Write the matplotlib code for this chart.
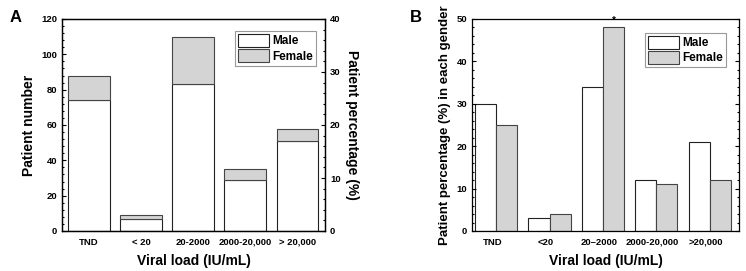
import numpy as np
import matplotlib.pyplot as plt
from matplotlib.ticker import MultipleLocator

plt.rcParams['font.family'] = ['Liberation Sans', 'DejaVu Sans']
plt.rcParams['font.weight'] = 'bold'

# data
cats_a = ["TND", "< 20", "20-2000", "2000-20,000", "> 20,000"]
male_a = [74, 7, 83, 29, 51]
female_a = [14, 2, 27, 6, 7]

cats_b = ["TND", "<20", "20\u20132000", "2000-20,000", ">20,000"]
male_b = [30, 3, 34, 12, 21]
female_b = [25, 4, 48, 11, 12]

GRAY = "#d4d4d4"


def style_axis(ax):
    ax.tick_params(direction='in', which='both', labelsize=6.8, width=0.8)
    ax.tick_params(which='major', length=3)
    ax.tick_params(which='minor', length=1.5)
    for s in ax.spines.values():
        s.set_linewidth(0.9)


fig = plt.figure(figsize=(7.46, 2.71), dpi=100)

##############################################################
# Panel A
##############################################################
ax1 = fig.add_axes([62 / 746, 1 - 231 / 271, 263 / 746, 212 / 271])
x = np.arange(len(cats_a))
ax1.bar(x, male_a, width=0.8, color="white", edgecolor="#222222", linewidth=0.8, label="Male")
ax1.bar(x, female_a, width=0.8, bottom=male_a, color=GRAY, edgecolor="#444444", linewidth=0.8, label="Female")
ax1.set_xlim(-0.52, 4.53)
ax1.set_ylim(0, 120)
ax1.yaxis.set_major_locator(MultipleLocator(20))
ax1.yaxis.set_minor_locator(MultipleLocator(4))
ax1.set_xticks(x)
ax1.set_xticklabels(cats_a)
ax1.set_ylabel("Patient number", fontsize=10, fontweight='bold', labelpad=4)
ax1.set_xlabel("Viral load (IU/mL)", fontsize=10, fontweight='bold', labelpad=5)
style_axis(ax1)
ax1.tick_params(axis='x', which='both', length=0, pad=5)

ax1r = ax1.twinx()
ax1r.set_ylim(0, 40)
ax1r.yaxis.set_major_locator(MultipleLocator(10))
ax1r.yaxis.set_minor_locator(MultipleLocator(2))
ax1r.set_ylabel("Patient percentage (%)", fontsize=10, fontweight='bold', rotation=270, labelpad=13)
style_axis(ax1r)

leg = ax1.legend(loc='upper right', bbox_to_anchor=(0.966, 0.943), fontsize=8.5, handlelength=2.6,
                 handleheight=1.3, fancybox=False, framealpha=1, edgecolor="#999999",
                 borderpad=0.25, labelspacing=0.15, handletextpad=0.3, borderaxespad=0)
leg.get_frame().set_linewidth(0.8)

##############################################################
# Panel B
##############################################################
ax2 = fig.add_axes([472 / 746, 1 - 231 / 271, 267 / 746, 212 / 271])
x = np.arange(len(cats_b))
bw = 0.395
ax2.bar(x - 0.245, male_b, width=bw, color="white", edgecolor="#222222", linewidth=0.8, label="Male")
ax2.bar(x + 0.15, female_b, width=bw, color=GRAY, edgecolor="#444444", linewidth=0.8, label="Female")
ax2.text(2 + 0.15, female_b[2] + 0.3, "*", ha='center', va='bottom', fontsize=7, fontweight='bold')
ax2.set_xlim(-0.5, 4.5)
ax2.set_ylim(0, 50)
ax2.yaxis.set_major_locator(MultipleLocator(10))
ax2.yaxis.set_minor_locator(MultipleLocator(2))
ax2.set_xticks(x - 0.12)
ax2.set_xticklabels(cats_b)
ax2.set_ylabel("Patient percentage (%) in each gender", fontsize=9.5, fontweight='bold', labelpad=4)
ax2.set_xlabel("Viral load (IU/mL)", fontsize=10, fontweight='bold', labelpad=5)
style_axis(ax2)
ax2.tick_params(axis='y', which='both', right=True)
ax2.tick_params(axis='x', which='both', length=0, pad=5)

leg = ax2.legend(loc='upper right', bbox_to_anchor=(0.951, 0.934), fontsize=8.5, handlelength=2.6,
                 handleheight=1.3, fancybox=False, framealpha=1, edgecolor="#999999",
                 borderpad=0.25, labelspacing=0.15, handletextpad=0.3, borderaxespad=0)
leg.get_frame().set_linewidth(0.8)

fig.text(10 / 746, 1 - 18 / 271, "A", fontsize=12, fontweight='bold', va='center')
fig.text(410 / 746, 1 - 18 / 271, "B", fontsize=12, fontweight='bold', va='center')

fig.savefig("out.png", dpi=100)
